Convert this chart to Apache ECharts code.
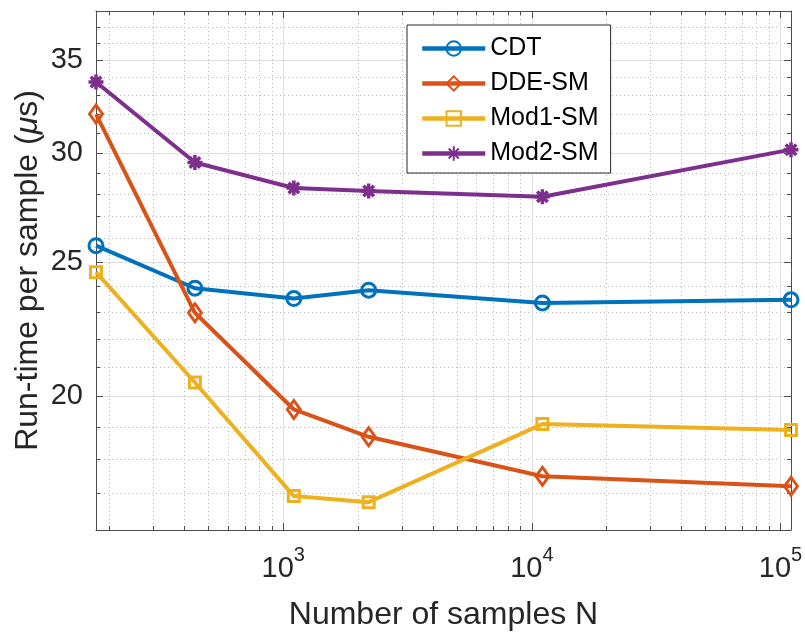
<!DOCTYPE html>
<html>
<head>
<meta charset="utf-8">
<script src="https://cdn.jsdelivr.net/npm/echarts@6/dist/echarts.min.js"></script>
<style>
  html, body { margin: 0; padding: 0; background: #ffffff; }
  #chart { width: 805px; height: 635px; }
</style>
</head>
<body>
<div id="chart"></div>
<script>
// Number of samples N (x, log scale)
const sampleCounts = [176.4, 441, 1102.5, 2205, 11025, 110250];

// Run-time per sample in microseconds, one array per method
const cdtTimes  = [25.70, 23.94, 23.53, 23.86, 23.36, 23.48];
const ddeTimes  = [32.00, 22.98, 19.56, 18.69, 17.50, 17.21];
const mod1Times = [24.59, 20.46, 16.93, 16.76, 19.09, 18.90];
const mod2Times = [33.76, 29.52, 28.29, 28.15, 27.88, 30.16];

const seriesNames = ['CDT', 'DDE-SM', 'Mod1-SM', 'Mod2-SM'];

// Axis limits and tick positions
const xRange = [176.4, 110250];
const yRange = [16, 38];
const xMajorTicks = [1000, 10000, 100000];
const xMinorTicks = [200, 300, 400, 500, 600, 700, 800, 900,
                     2000, 3000, 4000, 5000, 6000, 7000, 8000, 9000,
                     20000, 30000, 40000, 50000, 60000, 70000, 80000, 90000];
const yMajorTicks = [20, 25, 30, 35];
const yMinorTicks = [17, 18, 19, 21, 22, 23, 24, 26, 27, 28, 29,
                     31, 32, 33, 34, 36, 37];

const FONT = '"Liberation Sans", Arial, Helvetica, sans-serif';
const AXIS_COLOR = '#4d4d4d';
const TEXT_COLOR = '#262626';
const MAJOR_GRID = '#dfdfdf';
const MINOR_GRID = '#b9b9b9';

const COLORS = ['#0072BD', '#D95319', '#EDB120', '#7E2F8E'];
const ASTERISK = 'path://M0,5L10,5M5,0L5,10M1.5,1.5L8.5,8.5M1.5,8.5L8.5,1.5';

function logAxis(range, position, opts) {
  return Object.assign({
    type: 'log',
    logBase: 10,
    min: range[0],
    max: range[1],
    position: position,
    axisLine: { show: false, onZero: false },
    axisTick: { show: false },
    axisLabel: { show: false },
    splitLine: { show: false },
    minorTick: { show: false },
    minorSplitLine: { show: false },
    axisPointer: { show: false },
    nameMoveOverlap: false,
    silent: true
  }, opts);
}

function frameLine() {
  return { show: true, onZero: false, lineStyle: { color: AXIS_COLOR, width: 1 } };
}

function ticks(values, len) {
  return { show: true, inside: true, length: len, customValues: values,
           lineStyle: { color: AXIS_COLOR, width: 1 } };
}

const majorSplit = { show: true, lineStyle: { color: MAJOR_GRID, width: 1, type: 'solid' } };
const minorSplit = { show: true, lineStyle: { color: MINOR_GRID, width: 1, type: [1, 3] } };

const xAxes = [
  logAxis(xRange, 'bottom', {
    axisLine: frameLine(),
    axisTick: ticks(xMajorTicks, 7),
    axisLabel: {
      show: true,
      customValues: xMajorTicks,
      margin: 24,
      hideOverlap: false,
      formatter: function (v) {
        return '{b|10}{e|' + Math.round(Math.log10(v)) + '}';
      },
      rich: {
        b: { fontSize: 29, lineHeight: 29, fontFamily: FONT, color: TEXT_COLOR, verticalAlign: 'bottom' },
        e: { fontSize: 20, lineHeight: 20, fontFamily: FONT, color: TEXT_COLOR, verticalAlign: 'bottom', padding: [0, 0, 18, 0] }
      }
    },
    splitLine: majorSplit,
    name: 'Number of samples N',
    nameLocation: 'middle',
    nameGap: 69,
    nameTextStyle: { fontSize: 32, fontFamily: FONT, color: TEXT_COLOR }
  }),
  logAxis(xRange, 'bottom', { axisTick: ticks(xMinorTicks, 4), splitLine: minorSplit }),
  logAxis(xRange, 'top', { axisLine: frameLine(), axisTick: ticks(xMajorTicks, 7) }),
  logAxis(xRange, 'top', { axisTick: ticks(xMinorTicks, 4) })
];

const yAxes = [
  // left frame, major ticks, major grid and the axis title
  logAxis(yRange, 'left', {
    axisLine: frameLine(),
    axisTick: ticks(yMajorTicks, 7),
    splitLine: majorSplit,
    name: 'Run-time per sample ({i|\u03bc}s)',
    nameLocation: 'middle',
    nameGap: 52,
    nameTextStyle: {
      fontSize: 32, fontFamily: FONT, color: TEXT_COLOR,
      rich: { i: { fontSize: 32, fontFamily: FONT, color: TEXT_COLOR, fontStyle: 'italic' } }
    }
  }),
  // minor ticks, dotted grid and the tick labels
  logAxis(yRange, 'left', {
    axisTick: ticks(yMinorTicks, 4),
    splitLine: minorSplit,
    axisLabel: {
      show: true,
      customValues: yMajorTicks,
      margin: 13,
      hideOverlap: false,
      fontSize: 29,
      lineHeight: 29,
      fontFamily: FONT,
      color: TEXT_COLOR,
      formatter: function (v) { return String(Math.round(v)); }
    }
  }),
  logAxis(yRange, 'right', { axisLine: frameLine(), axisTick: ticks(yMajorTicks, 7) }),
  logAxis(yRange, 'right', { axisTick: ticks(yMinorTicks, 4) })
];

function pairs(values) {
  return sampleCounts.map(function (n, i) { return [n, values[i]]; });
}

function lineSeries(idx, values, symbol, symbolSize, borderWidth) {
  return {
    name: seriesNames[idx],
    type: 'line',
    xAxisIndex: 0,
    yAxisIndex: 0,
    data: pairs(values),
    symbol: symbol,
    symbolSize: symbolSize,
    showAllSymbol: true,
    clip: false,
    z: 3 + idx,
    lineStyle: { color: COLORS[idx], width: 4 },
    itemStyle: { color: 'rgba(255,255,255,0)', borderColor: COLORS[idx], borderWidth: borderWidth },
    emphasis: { disabled: true }
  };
}

const chart = echarts.init(document.getElementById('chart'), null, { renderer: 'canvas' });
chart.setOption({
  animation: false,
  backgroundColor: '#ffffff',
  grid: { left: 96, top: 11, width: 695, height: 519, containLabel: false, outerBoundsMode: 'none' },
  xAxis: xAxes,
  yAxis: yAxes,
  legend: {
    show: true,
    orient: 'vertical',
    left: 407,
    top: 25,
    itemWidth: 63,
    itemHeight: 18,
    itemGap: 10,
    padding: [11, 12, 7, 13],
    backgroundColor: '#ffffff',
    borderColor: '#262626',
    borderWidth: 1,
    borderRadius: 0,
    selectedMode: false,
    lineStyle: { width: 4.5 },
    textStyle: { fontSize: 25, lineHeight: 25, fontFamily: FONT, color: '#000000' },
    data: seriesNames
  },
  series: [
    lineSeries(0, cdtTimes, 'circle', 14, 3),
    lineSeries(1, ddeTimes, 'diamond', [13, 18], 3),
    lineSeries(2, mod1Times, 'rect', 11, 3),
    lineSeries(3, mod2Times, ASTERISK, 15, 3.5)
  ]
});
</script>
</body>
</html>
